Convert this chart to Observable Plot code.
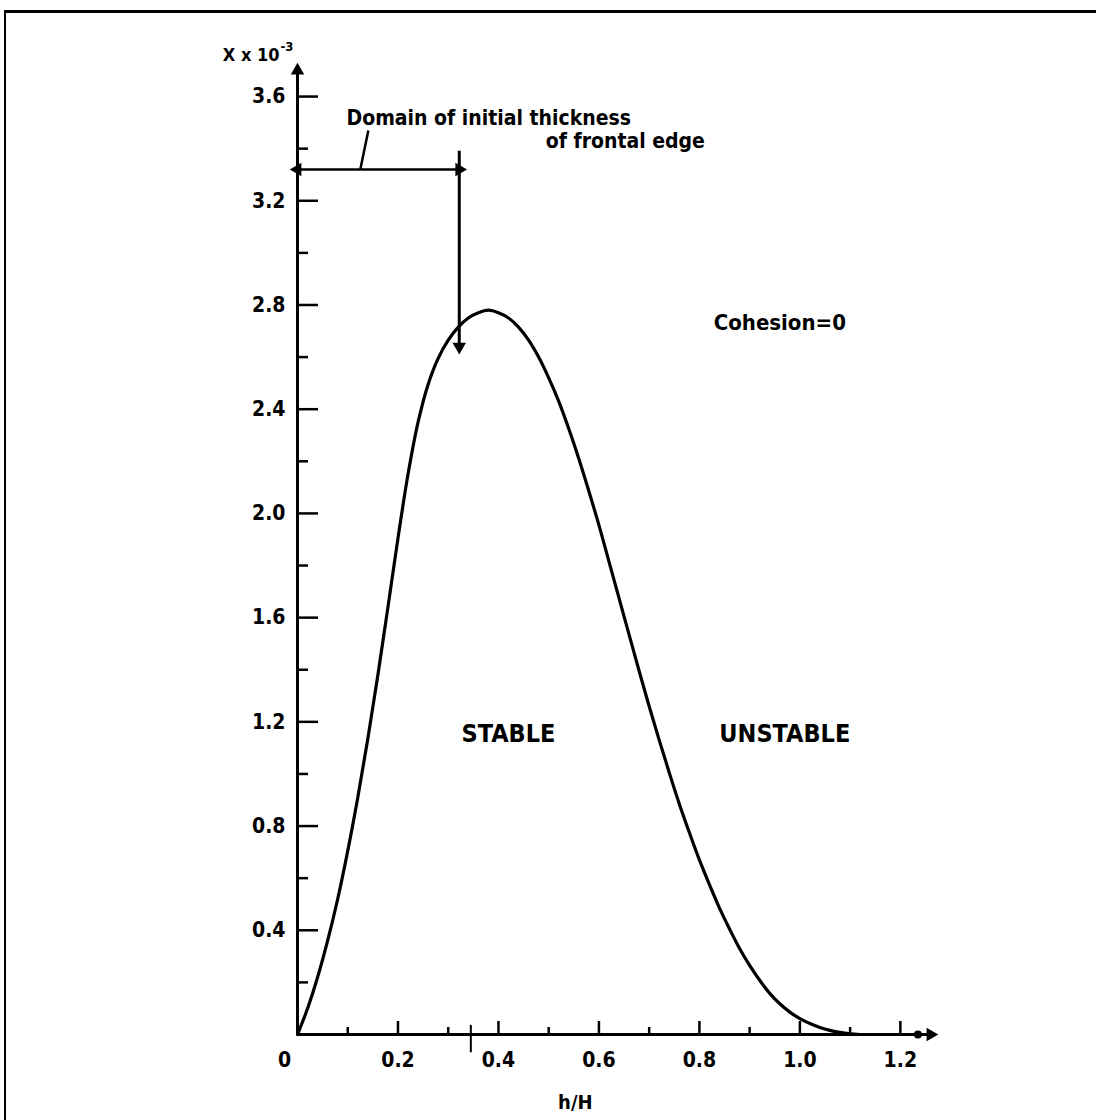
<!DOCTYPE html>
<html>
<head>
<meta charset="utf-8">
<script src="https://cdn.jsdelivr.net/npm/d3@7"></script>
<script src="https://cdn.jsdelivr.net/npm/@observablehq/plot@0.6"></script>
<style>
  html, body { margin: 0; padding: 0; background: #fff; }
  #wrap { position: relative; width: 1096px; height: 1120px; overflow: hidden; background: #fff; }
  #frame { position: absolute; left: 4px; top: 10px; right: -10px; bottom: -10px;
           border-left: 2px solid #000; border-top: 3px solid #000; pointer-events: none; }
  #chart { position: absolute; left: 0; top: 0; }
  svg text { font-family: "DejaVu Sans Condensed", "DejaVu Sans", sans-serif; font-stretch: condensed; }
</style>
</head>
<body>
<div id="wrap"><div id="chart"></div><div id="frame"></div></div>
<script>
// ---- data ----
const hH = [0.00, 0.02, 0.04, 0.06, 0.08, 0.10, 0.12, 0.14, 0.16, 0.18, 0.20, 0.22, 0.24, 0.26, 0.28, 0.30, 0.32, 0.34, 0.36, 0.38, 0.40, 0.42, 0.44, 0.46, 0.48, 0.50, 0.52, 0.54, 0.56, 0.58, 0.60, 0.62, 0.64, 0.66, 0.68, 0.70, 0.72, 0.74, 0.76, 0.78, 0.80, 0.82, 0.84, 0.86, 0.88, 0.90, 0.92, 0.94, 0.96, 0.98, 1.00, 1.02, 1.04, 1.06, 1.08, 1.10, 1.12];
const Xval = [0, 0.10, 0.22, 0.36, 0.52, 0.705, 0.91, 1.135, 1.38, 1.64, 1.905, 2.15, 2.35, 2.495, 2.595, 2.665, 2.715, 2.75, 2.77, 2.78, 2.77, 2.75, 2.715, 2.665, 2.60, 2.52, 2.43, 2.325, 2.21, 2.085, 1.955, 1.815, 1.675, 1.535, 1.395, 1.26, 1.13, 1.005, 0.885, 0.775, 0.67, 0.575, 0.485, 0.405, 0.33, 0.265, 0.208, 0.158, 0.118, 0.086, 0.061, 0.042, 0.027, 0.016, 0.008, 0.003, 0];
const yMajor = [0.4, 0.8, 1.2, 1.6, 2.0, 2.4, 2.8, 3.2, 3.6];
const yMinor = [0.2, 0.6, 1.0, 1.4, 1.8, 2.2, 2.6, 3.0, 3.4];
const xMajor = [0.2, 0.4, 0.6, 0.8, 1.0, 1.2];
const xMinor = [0.1, 0.3, 0.5, 0.7, 0.9, 1.1];
const xMax = 1.26, yMax = 3.7;
// annotation: domain of initial thickness of frontal edge
const domainEdge = 0.322, domainLevel = 3.32, domainTop = 3.39, domainBottom = 2.64;
const leader = {x1: 0.125, y1: 3.32, x2: 0.141, y2: 3.47};
const footTick = 0.345;
const labels = [
  {x: 0.42, y: 1.155, text: "STABLE", size: 25},
  {x: 0.97, y: 1.155, text: "UNSTABLE", size: 25},
  {x: 0.96, y: 2.73, text: "Cohesion=0", size: 22}
];
const noteLines = [
  {x: 0.0975, y: 3.515, text: "Domain of initial thickness"},
  {x: 0.494, y: 3.43, text: "of frontal edge"}
];

const curve = hH.map((x, i) => ({x, y: Xval[i]}));
const blank = () => "";
const heads = [
  {x: 0, y: yMax, r: 0},
  {x: xMax, y: 0, r: 90},
  {x: 0, y: domainLevel, r: -90},
  {x: domainEdge, y: domainLevel, r: 90},
  {x: domainEdge, y: domainBottom, r: 180}
];

const chart = Plot.plot({
  width: 1096,
  height: 1120,
  marginLeft: 297,
  marginRight: 166,
  marginTop: 70,
  marginBottom: 86,
  x: {domain: [0, xMax]},
  y: {domain: [0, yMax]},
  style: {background: "transparent", color: "#000"},
  marks: [
    // axes lines
    Plot.ruleX([0], {y1: 0, y2: yMax, stroke: "#000", strokeWidth: 3}),
    Plot.ruleY([0], {x1: 0, x2: xMax, stroke: "#000", strokeWidth: 3}),
    // y ticks (inward)
    Plot.axisY(yMajor, {tickSize: -21, tickFormat: blank, strokeWidth: 2.5}),
    Plot.axisY(yMinor, {tickSize: -11, tickFormat: blank, strokeWidth: 2.5}),
    Plot.axisY(yMajor, {tickSize: 0, tickPadding: 12, tickFormat: d3.format(".1f"), fontSize: 21, fontWeight: "bold"}),
    // x ticks (inward)
    Plot.axisX(xMajor, {tickSize: -13, tickFormat: blank, strokeWidth: 2.5}),
    Plot.axisX(xMinor, {tickSize: -7, tickFormat: blank, strokeWidth: 2.5}),
    Plot.axisX(xMajor, {tickSize: 0, tickPadding: 18, tickFormat: d3.format(".1f"), fontSize: 21, fontWeight: "bold"}),
    Plot.axisX([0], {tickSize: 0, tickPadding: 18, tickFormat: d => "0", dx: -13, fontSize: 21, fontWeight: "bold"}),
    Plot.ruleX([footTick], {y1: -0.07, y2: 0.035, stroke: "#000", strokeWidth: 2}),
    // axis titles
    Plot.text(["h/H"], {x: 0.553, y: 0, dy: 68, text: d => d, fontSize: 20, fontWeight: "bold"}),
    Plot.text(["X x 10"], {x: 0, y: yMax, dx: -18, dy: -15, textAnchor: "end", text: d => d, fontSize: 18, fontWeight: "bold"}),
    Plot.text(["-3"], {x: 0, y: yMax, dx: -17, dy: -24, textAnchor: "start", text: d => d, fontSize: 13, fontWeight: "bold"}),
    // the stability curve
    Plot.line(curve, {x: "x", y: "y", curve: "catmull-rom", stroke: "#000", strokeWidth: 3.2}),
    // domain annotation
    Plot.ruleY([domainLevel], {x1: 0, x2: domainEdge, stroke: "#000", strokeWidth: 2.5}),
    Plot.ruleX([domainEdge], {y1: domainBottom, y2: domainTop, stroke: "#000", strokeWidth: 3}),
    Plot.link([leader], {x1: "x1", y1: "y1", x2: "x2", y2: "y2", stroke: "#000", strokeWidth: 2.5}),
    // arrowheads
    Plot.dot(heads, {x: "x", y: "y", rotate: "r", symbol: "triangle", r: 5, fill: "#000", stroke: "none"}),
    Plot.dot([{x: 1.235, y: 0}], {x: "x", y: "y", r: 4, fill: "#000"}),
    Plot.text(noteLines, {x: "x", y: "y", text: "text", textAnchor: "start", fontSize: 21, fontWeight: "bold"}),
    // region labels
    Plot.text(labels, {x: "x", y: "y", text: "text", fontSize: d => d.size, fontWeight: "bold"})
  ]
});
document.getElementById("chart").appendChild(chart);
</script>
</body>
</html>
